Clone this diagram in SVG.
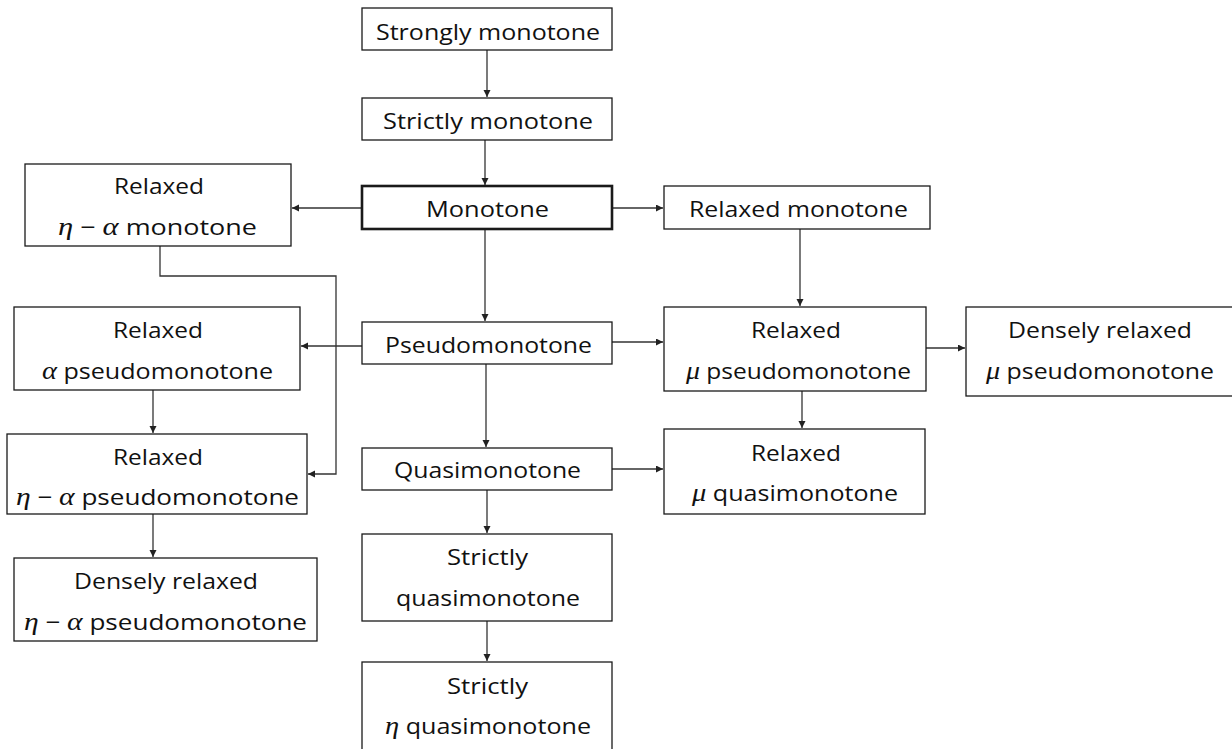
<svg xmlns="http://www.w3.org/2000/svg" width="1232" height="749" viewBox="0 0 1232 749">
<style>
.box{fill:#fff;stroke:#1a1a1a;stroke-width:1.3}
.thick{stroke-width:2.6}
.t{font-family:"Open Sans","Noto Sans",sans-serif;font-size:22px;fill:#111}
.g{font-family:"Liberation Serif","DejaVu Serif",serif;font-style:italic;font-size:25px}
.c{fill:none;stroke:#333;stroke-width:1.3}
</style>
<defs>
<marker id="ah" markerUnits="userSpaceOnUse" markerWidth="8" markerHeight="8" refX="7" refY="3.5" orient="auto">
<path d="M0,0 L7,3.5 L0,7 Z" fill="#222"/>
</marker>
</defs>
<rect width="1232" height="749" fill="#fff"/>
<g id="connectors">
<line class="c" x1="487" y1="50" x2="487" y2="97" marker-end="url(#ah)"/>
<line class="c" x1="485" y1="140" x2="485" y2="185" marker-end="url(#ah)"/>
<line class="c" x1="362" y1="208" x2="292" y2="208" marker-end="url(#ah)"/>
<line class="c" x1="612" y1="208" x2="663" y2="208" marker-end="url(#ah)"/>
<line class="c" x1="485" y1="229" x2="485" y2="321" marker-end="url(#ah)"/>
<polyline class="c" points="160,246 160,276 336,276 336,474 308,474" marker-end="url(#ah)"/>
<line class="c" x1="800" y1="229" x2="800" y2="306" marker-end="url(#ah)"/>
<line class="c" x1="362" y1="346" x2="301" y2="346" marker-end="url(#ah)"/>
<line class="c" x1="612" y1="342" x2="663" y2="342" marker-end="url(#ah)"/>
<line class="c" x1="926" y1="348" x2="965" y2="348" marker-end="url(#ah)"/>
<line class="c" x1="802" y1="391" x2="802" y2="428" marker-end="url(#ah)"/>
<line class="c" x1="486" y1="364" x2="486" y2="447" marker-end="url(#ah)"/>
<line class="c" x1="153" y1="390" x2="153" y2="433" marker-end="url(#ah)"/>
<line class="c" x1="612" y1="469" x2="663" y2="469" marker-end="url(#ah)"/>
<line class="c" x1="153" y1="514" x2="153" y2="557" marker-end="url(#ah)"/>
<line class="c" x1="487" y1="490" x2="487" y2="533" marker-end="url(#ah)"/>
<line class="c" x1="487" y1="621" x2="487" y2="661" marker-end="url(#ah)"/>
</g>
<g id="strongly-monotone">
<rect class="box" x="362" y="8" width="250" height="42"/>
<text class="t" x="376" y="40" textLength="224" lengthAdjust="spacingAndGlyphs">Strongly monotone</text>
</g>
<g id="strictly-monotone">
<rect class="box" x="362" y="98" width="250" height="42"/>
<text class="t" x="383" y="129" textLength="210" lengthAdjust="spacingAndGlyphs">Strictly monotone</text>
</g>
<g id="monotone">
<rect class="box thick" x="362" y="186" width="250" height="43"/>
<text class="t" x="426" y="217" textLength="123" lengthAdjust="spacingAndGlyphs">Monotone</text>
</g>
<g id="relaxed-eta-alpha-monotone">
<rect class="box" x="25" y="164" width="266" height="82"/>
<text class="t" x="114" y="194" textLength="90" lengthAdjust="spacingAndGlyphs">Relaxed</text>
<text class="t" x="58" y="235" textLength="199" lengthAdjust="spacingAndGlyphs"><tspan class="g">η</tspan> − <tspan class="g">α</tspan> monotone</text>
</g>
<g id="relaxed-monotone">
<rect class="box" x="664" y="186" width="266" height="43"/>
<text class="t" x="689" y="217" textLength="219" lengthAdjust="spacingAndGlyphs">Relaxed monotone</text>
</g>
<g id="pseudomonotone">
<rect class="box" x="362" y="322" width="250" height="42"/>
<text class="t" x="385" y="353" textLength="207" lengthAdjust="spacingAndGlyphs">Pseudomonotone</text>
</g>
<g id="relaxed-alpha-pseudomonotone">
<rect class="box" x="14" y="307" width="286" height="83"/>
<text class="t" x="113" y="338" textLength="90" lengthAdjust="spacingAndGlyphs">Relaxed</text>
<text class="t" x="42" y="379" textLength="231" lengthAdjust="spacingAndGlyphs"><tspan class="g">α</tspan> pseudomonotone</text>
</g>
<g id="relaxed-mu-pseudomonotone">
<rect class="box" x="664" y="307" width="262" height="84"/>
<text class="t" x="751" y="338" textLength="90" lengthAdjust="spacingAndGlyphs">Relaxed</text>
<text class="t" x="686" y="379" textLength="225" lengthAdjust="spacingAndGlyphs"><tspan class="g">μ</tspan> pseudomonotone</text>
</g>
<g id="densely-relaxed-mu-pseudomonotone">
<rect class="box" x="966" y="307" width="270" height="89"/>
<text class="t" x="1008" y="338" textLength="184" lengthAdjust="spacingAndGlyphs">Densely relaxed</text>
<text class="t" x="986" y="379" textLength="228" lengthAdjust="spacingAndGlyphs"><tspan class="g">μ</tspan> pseudomonotone</text>
</g>
<g id="relaxed-eta-alpha-pseudomonotone">
<rect class="box" x="7" y="434" width="300" height="80"/>
<text class="t" x="113" y="465" textLength="90" lengthAdjust="spacingAndGlyphs">Relaxed</text>
<text class="t" x="16" y="505" textLength="283" lengthAdjust="spacingAndGlyphs"><tspan class="g">η</tspan> − <tspan class="g">α</tspan> pseudomonotone</text>
</g>
<g id="quasimonotone">
<rect class="box" x="362" y="448" width="250" height="42"/>
<text class="t" x="394" y="478" textLength="187" lengthAdjust="spacingAndGlyphs">Quasimonotone</text>
</g>
<g id="relaxed-mu-quasimonotone">
<rect class="box" x="664" y="429" width="261" height="85"/>
<text class="t" x="751" y="461" textLength="90" lengthAdjust="spacingAndGlyphs">Relaxed</text>
<text class="t" x="692" y="501" textLength="206" lengthAdjust="spacingAndGlyphs"><tspan class="g">μ</tspan> quasimonotone</text>
</g>
<g id="densely-relaxed-eta-alpha-pseudomonotone">
<rect class="box" x="14" y="558" width="303" height="83"/>
<text class="t" x="74" y="589" textLength="184" lengthAdjust="spacingAndGlyphs">Densely relaxed</text>
<text class="t" x="24" y="630" textLength="283" lengthAdjust="spacingAndGlyphs"><tspan class="g">η</tspan> − <tspan class="g">α</tspan> pseudomonotone</text>
</g>
<g id="strictly-quasimonotone">
<rect class="box" x="362" y="534" width="250" height="87"/>
<text class="t" x="447" y="565" textLength="81" lengthAdjust="spacingAndGlyphs">Strictly</text>
<text class="t" x="396" y="606" textLength="184" lengthAdjust="spacingAndGlyphs">quasimonotone</text>
</g>
<g id="strictly-eta-quasimonotone">
<rect class="box" x="362" y="662" width="250" height="90"/>
<text class="t" x="447" y="694" textLength="81" lengthAdjust="spacingAndGlyphs">Strictly</text>
<text class="t" x="385" y="734" textLength="206" lengthAdjust="spacingAndGlyphs"><tspan class="g">η</tspan> quasimonotone</text>
</g>
</svg>
